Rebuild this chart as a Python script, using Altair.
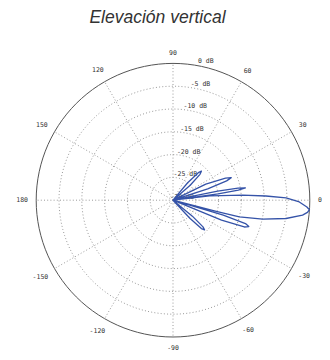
import numpy as np
import pandas as pd
import altair as alt

# ---- data (elevation pattern, dB) ----
ANGLE_DEG = [-180, -60,
             -49.5, -47.0, -45.0, -43.3, -41.6, -39.5, -37.0,
             -24.0, -22.3, -20.6, -19.2, -17.9, -16.5, -15.0,
             -14.4, -14.1, -11.9, -9.2, -6.6, -5.2, -4.0, -2.9, -0.8, 1.2, 2.6, 4.1, 6.7, 7.4,
             7.9, 8.7, 9.6, 10.5, 11.4, 12.8,
             15.5, 18.0, 19.8, 21.2, 22.8, 26.0, 28.5,
             38.0, 41.0, 43.8, 45.6, 47.4, 50.0, 53.0,
             60, 180]
GAIN_DB = [-40, -40,
           -30, -24.5, -21.2, -20.5, -21.2, -24.5, -30,
           -30, -18.5, -13.3, -12.4, -13.3, -18.5, -30,
           -20.2, -15.0, -9.9, -4.9, -1.4, -0.4, 0.0, -0.6, -2.3, -5.2, -9.6, -14.7, -21.9, -30,
           -20.0, -15.5, -13.9, -15.5, -20.0, -30,
           -30, -22.0, -17.5, -16.3, -17.5, -22.0, -30,
           -30, -25.0, -21.8, -21.1, -21.8, -25.0, -30,
           -40, -40]

RING_DB = [-25, -20, -15, -10, -5]          # dotted rings
OUTER_DB = [0]                               # solid outer ring
DB_LABELS = [0, -5, -10, -15, -20, -25, -30]
SPOKE_DEG = [0, 30, 60, 90, 120, 150, 180, 210, 240, 270, 300, 330]
SPOKE_TXT = ["0", "30", "60", "90", "120", "150", "180", "-150", "-120", "-90", "-60", "-30"]

R_MIN = -30
K = 4.56          # px per dB
CX, CY = 173.0, 200.2   # page position of the pole (for scale domains)

pattern = pd.DataFrame({"i": range(len(ANGLE_DEG)), "angle": ANGLE_DEG, "db": GAIN_DB})

circle_steps = np.arange(0, 361, 3)
rings = pd.DataFrame([{"level": L, "angle": a, "db": L} for L in RING_DB for a in circle_steps])
outer = pd.DataFrame([{"level": L, "angle": a, "db": L} for L in OUTER_DB for a in circle_steps])
spokes = pd.DataFrame([{"spoke": a, "angle": a, "db": d} for a in SPOKE_DEG for d in (R_MIN, 0)])
spoke_labels = pd.DataFrame({"angle": SPOKE_DEG, "txt": SPOKE_TXT})
db_labels = pd.DataFrame({"db": DB_LABELS, "txt": [f"{d} dB" for d in DB_LABELS],
                          "angle": [81.7] * len(DB_LABELS)})

xs = alt.Scale(domain=[-(CX - 8) / K, (322 - CX) / K], nice=False, zero=False)
ys = alt.Scale(domain=[-(352 - CY) / K, (CY - 38) / K], nice=False, zero=False)


def polar(ch):
    return ch.transform_calculate(
        r=f"max(datum.db, {R_MIN}) - ({R_MIN})"
    ).transform_calculate(
        px="datum.r * cos(datum.angle * PI / 180)",
        py="datum.r * sin(datum.angle * PI / 180)",
    )


X = alt.X("px:Q", scale=xs, axis=None)
Y = alt.Y("py:Q", scale=ys, axis=None)

ring_layer = polar(alt.Chart(rings)).mark_line(
    color="#9a9a9a", strokeWidth=1, strokeDash=[1, 2.2]
).encode(x=X, y=Y, detail="level:N", order="angle:Q")

spoke_layer = polar(alt.Chart(spokes)).mark_line(
    color="#9a9a9a", strokeWidth=1, strokeDash=[1, 2.2]
).encode(x=X, y=Y, detail="spoke:N", order="db:Q")

outer_layer = polar(alt.Chart(outer)).mark_line(
    color="#555555", strokeWidth=1
).encode(x=X, y=Y, detail="level:N", order="angle:Q")

# angle labels: sit just outside the rim, pushed out by half their own extent
spoke_text = alt.Chart(spoke_labels).transform_calculate(
    ext="abs(cos(datum.angle * PI / 180)) * length(datum.txt) * 1.95"
        " + abs(sin(datum.angle * PI / 180)) * 2.6"
).transform_calculate(
    lr=f"(145 + datum.ext) / {K}"
).transform_calculate(
    px="datum.lr * cos(datum.angle * PI / 180)",
    py="datum.lr * sin(datum.angle * PI / 180)",
).mark_text(
    font="DejaVu Sans Mono", fontSize=6.5, color="#333333", align="center", baseline="middle"
).encode(x=X, y=Y, text="txt:N")

db_text = polar(alt.Chart(db_labels)).mark_text(
    font="DejaVu Sans Mono", fontSize=6.5, color="#333333", align="right", baseline="alphabetic",
    dx=20.8, dy=-1.5
).encode(x=X, y=Y, text="txt:N")

pattern_layer = polar(alt.Chart(pattern)).mark_line(
    color="#3553a8", strokeWidth=1.3, strokeJoin="round"
).encode(x=X, y=Y, order="i:Q")

chart = alt.layer(
    ring_layer, spoke_layer, outer_layer, spoke_text, db_text, pattern_layer
).properties(
    width=314, height=314,
    padding={"left": 0, "right": 0, "top": 30, "bottom": 0},
    autosize="none",
    title=alt.TitleParams(
        "Elevación vertical", font="Liberation Sans", fontSize=17.5, fontStyle="italic",
        fontWeight="normal", color="#333333", anchor="middle", frame="group",
        dx=-7.5, offset=-2.5, baseline="alphabetic",
    ),
).configure_view(strokeWidth=0)

chart.save("out.html", embed_options={"renderer": "svg", "actions": False})
